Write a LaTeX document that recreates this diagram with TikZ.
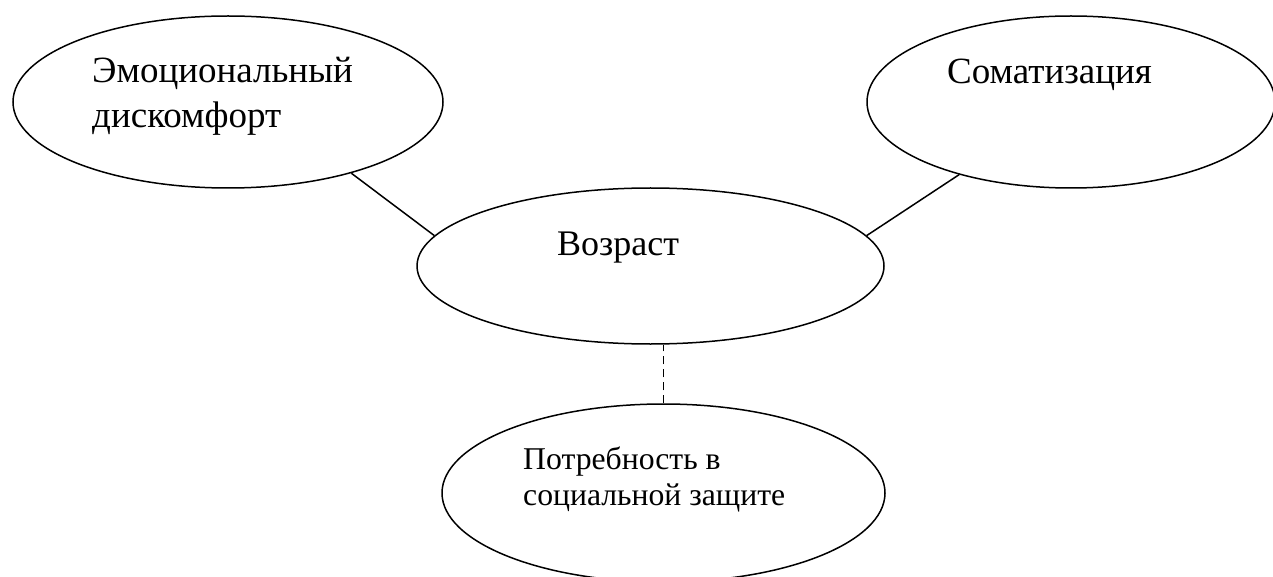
\documentclass[tikz,border=0pt]{standalone}
\usepackage{fontspec}
\setmainfont{Liberation Serif}
\usetikzlibrary{shapes.geometric}

\begin{document}
\begin{tikzpicture}[x=1pt, y=-1pt,
  oval/.style={draw, ellipse, line width=1.5pt, inner sep=0pt},
  lbl/.style={anchor=base west, align=left, inner sep=0pt,
              font=\fontsize{37}{45}\selectfont},
  link/.style={line width=1.5pt}
]
  \useasboundingbox (0,0) rectangle (1273,577);
  \clip (0,0) rectangle (1273,577);

  \node[oval, minimum width=430pt, minimum height=172pt] (emo) at (228,102) {};
  \node[oval, minimum width=408pt, minimum height=172pt] (som) at (1071,102) {};
  \node[oval, minimum width=467pt, minimum height=156pt] (age) at (650.5,266) {};
  \node[oval, minimum width=443pt, minimum height=178pt] (soc) at (663.5,493) {};

  % multi-line labels sit on their last baseline
  \node[lbl] (emotxt) at (92,128) {Эмоциональный\\дискомфорт};
  \node[lbl] (somtxt) at (947,84) {Соматизация};
  \node[lbl, font=\fontsize{36}{45}\selectfont] (agetxt) at (557,255) {Возраст};
  \node[lbl, font=\fontsize{31.7}{36}\selectfont] (soctxt) at (523,505) {Потребность в\\социальной защите};

  \draw[link] (emo.-30.2) -- (age.172.7);
  \draw[link] (age.8.7) -- (som.-147);
  % dashed link down
  \draw[link, dash pattern=on 8pt off 5pt] (soc.north) -- (soc.north |- age.south);
\end{tikzpicture}
\end{document}
